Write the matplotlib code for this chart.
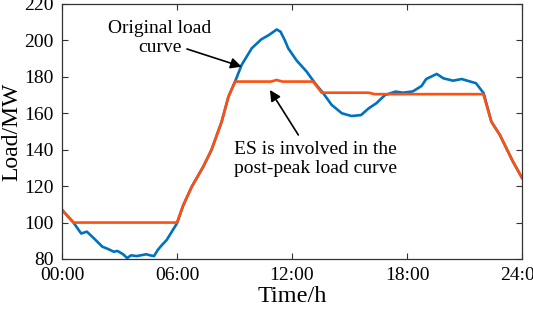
import numpy as np
import matplotlib.pyplot as plt

plt.rcParams['font.family'] = ['Liberation Serif', 'DejaVu Serif']

# исходная кривая нагрузки (синяя)
t_orig = [0, 0.6, 1.0, 1.3, 1.7, 2.1, 2.4, 2.7, 2.9, 3.2, 3.4, 3.6, 3.9, 4.2, 4.4,
          4.6, 4.8, 5.0, 5.2, 5.46, 5.7, 6.0, 6.33, 6.77, 7.37, 7.8, 8.33, 8.68,
          9.03, 9.37, 9.9, 10.4, 10.8, 11.2, 11.4, 11.63, 11.8, 12.24, 12.76, 13.2,
          13.63, 14.07, 14.6, 15.1, 15.6, 16.0, 16.4, 16.85, 17.4, 17.8, 18.3,
          18.76, 19.0, 19.55, 19.9, 20.4, 20.85, 21.6, 22.0, 22.4, 22.85, 23.5, 24]
load_orig = [107, 100, 94, 95, 91, 86.8, 85.5, 84, 84.4, 82.5, 80.5, 82, 81.6, 82.2,
             82.6, 82.0, 81.6, 85, 87.5, 90.4, 94.5, 99.6, 109.6, 119.7, 130.7, 139.9,
             155.4, 169, 177.4, 186.5, 195.7, 200.6, 203, 206, 204.8, 200, 195.7, 189,
             182.9, 176.5, 171, 164.6, 160, 158.5, 159, 162.7, 165.5, 170, 171.9, 171.3,
             172, 175, 178.8, 181.6, 179.2, 177.9, 178.8, 176.5, 171, 155.4, 148, 134,
             124.5]

# кривая после участия накопителя (оранжевая)
t_es = [0, 0.6, 6.0, 6.33, 6.77, 7.37, 7.8, 8.33, 8.68, 9.03, 10.9, 11.2, 11.5,
        13.1, 13.55, 16.0, 16.3, 21.98, 22.4, 22.85, 23.5, 24]
load_es = [107, 100, 100, 109.6, 119.7, 130.7, 139.9, 155.4, 169, 177.4, 177.4,
           178.3, 177.4, 177.4, 171.3, 171.3, 170.5, 170.5, 155.4, 148, 134, 124.5]

xticks = [0, 6, 12, 18, 24]
xtick_labels = ["00:00", "06:00", "12:00", "18:00", "24:00"]
yticks = [80, 100, 120, 140, 160, 180, 200, 220]

fig = plt.figure(figsize=(5.33, 3.12), dpi=100)
ax = fig.add_axes([0.1163, 0.1699, 0.8631, 0.8173])

ax.plot(t_orig, load_orig, color='#0072BD', lw=1.9)
ax.plot(t_es, load_es, color='#FF5010', lw=1.9)

ax.set_xlim(0, 24)
ax.set_ylim(80, 220)
ax.set_xticks(xticks)
ax.set_xticklabels(xtick_labels)
ax.set_yticks(yticks)
ax.tick_params(direction='in', top=True, right=True, labelsize=14,
               length=4, width=0.8, color='#333333', pad=6)
for s in ax.spines.values():
    s.set_color('#333333')
    s.set_linewidth(0.9)

ax.set_xlabel("Time/h", fontsize=17.5, labelpad=1)
ax.set_ylabel("Load/MW", fontsize=17, labelpad=1)

# подписи со стрелками
ax.text(5.1, 201.4, "Original load\ncurve", fontsize=14, ha='center',
        va='center', multialignment='center', linespacing=1.1)
ax.annotate("", xy=(9.37, 185.6), xytext=(6.52, 195.3),
            arrowprops=dict(arrowstyle='-|>', color='k', lw=1.2,
                            mutation_scale=16, shrinkA=0, shrinkB=0))

ax.text(13.2, 134.9, "ES is involved in the\npost-peak load curve", fontsize=14,
        ha='center', va='center', linespacing=1.1)
ax.annotate("", xy=(10.85, 172.8), xytext=(12.33, 148.1),
            arrowprops=dict(arrowstyle='-|>', color='k', lw=1.2,
                            mutation_scale=16, shrinkA=0, shrinkB=0))

fig.savefig("out.png", dpi=100)
